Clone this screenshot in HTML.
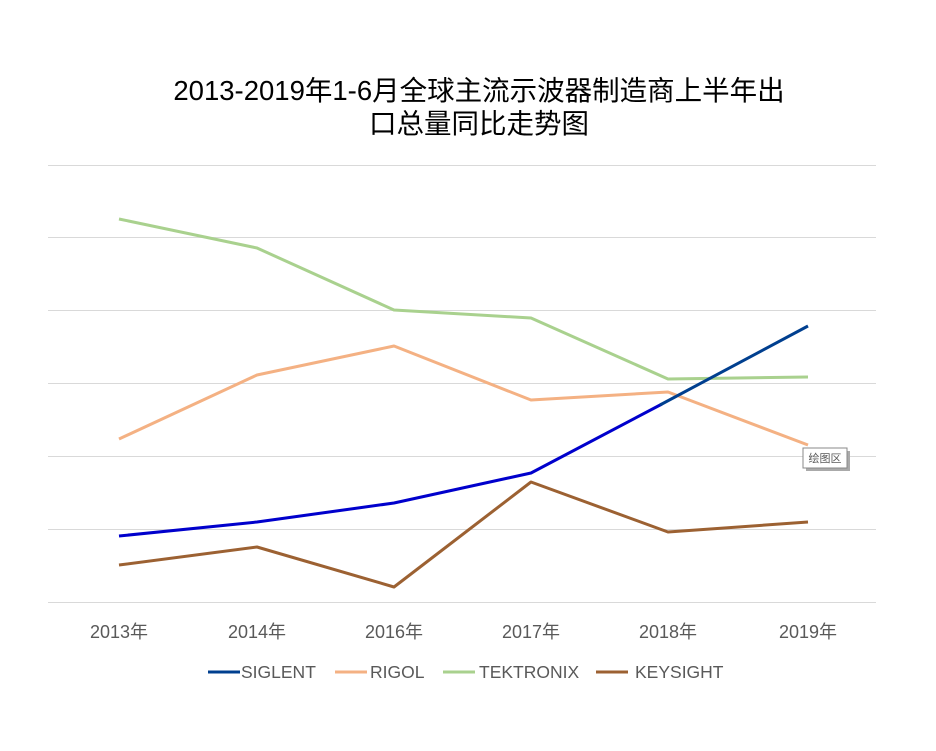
<!DOCTYPE html>
<html><head><meta charset="utf-8"><style>
body{margin:0;background:#fff;}
svg{display:block;font-family:"Liberation Sans","Noto Sans CJK SC",sans-serif;}
</style></head><body>
<svg width="936" height="751" viewBox="0 0 936 751">
<rect width="936" height="751" fill="#fff"/>
<text x="479" y="100" font-size="27.5" text-anchor="middle" fill="#000">2013-2019年1-6月全球主流示波器制造商上半年出</text>
<text x="479" y="133" font-size="27.5" text-anchor="middle" fill="#000">口总量同比走势图</text>
<g stroke="#d9d9d9" stroke-width="1">
<line x1="48" x2="876" y1="165.5" y2="165.5"/><line x1="48" x2="876" y1="237.5" y2="237.5"/>
<line x1="48" x2="876" y1="310.5" y2="310.5"/><line x1="48" x2="876" y1="383.5" y2="383.5"/>
<line x1="48" x2="876" y1="456.5" y2="456.5"/><line x1="48" x2="876" y1="529.5" y2="529.5"/>
<line x1="48" x2="876" y1="602.5" y2="602.5"/>
</g>
<g fill="none" stroke-width="3" stroke-linejoin="round">
<polyline stroke="#a9d18e" points="119,219 257,248 394,310 531,318 668,379 808,377"/>
<polyline stroke="#f4b183" points="119,439 257,375 394,346 531,400 668,392 808,445"/>
<polyline stroke="#0000cc" points="119,536 257,522 394,503 531,473 662,404"/>
<polyline stroke="#003f8f" points="660,405 808,326"/>
<polyline stroke="#9c6132" points="119,565 257,547 394,587 531,482 668,532 808,522"/>
</g>
<rect x="806" y="451" width="44" height="20" fill="#aaa"/>
<rect x="803" y="448" width="44" height="20" fill="#fff" stroke="#888"/>
<text x="825" y="462" font-size="11" text-anchor="middle" fill="#595959">绘图区</text>
<g font-size="18" fill="#595959" text-anchor="middle">
<text x="119" y="638">2013年</text><text x="257" y="638">2014年</text><text x="394" y="638">2016年</text>
<text x="531" y="638">2017年</text><text x="668" y="638">2018年</text><text x="808" y="638">2019年</text>
</g>
<g font-size="17.5" fill="#595959">
<line x1="208" x2="240" y1="672" y2="672" stroke="#003f8f" stroke-width="3"/><text x="241" y="678">SIGLENT</text>
<line x1="335" x2="367" y1="672" y2="672" stroke="#f4b183" stroke-width="3"/><text x="370" y="678">RIGOL</text>
<line x1="443" x2="475" y1="672" y2="672" stroke="#a9d18e" stroke-width="3"/><text x="479" y="678">TEKTRONIX</text>
<line x1="596" x2="628" y1="672" y2="672" stroke="#9c6132" stroke-width="3"/><text x="635" y="678">KEYSIGHT</text>
</g>
</svg>
</body></html>
